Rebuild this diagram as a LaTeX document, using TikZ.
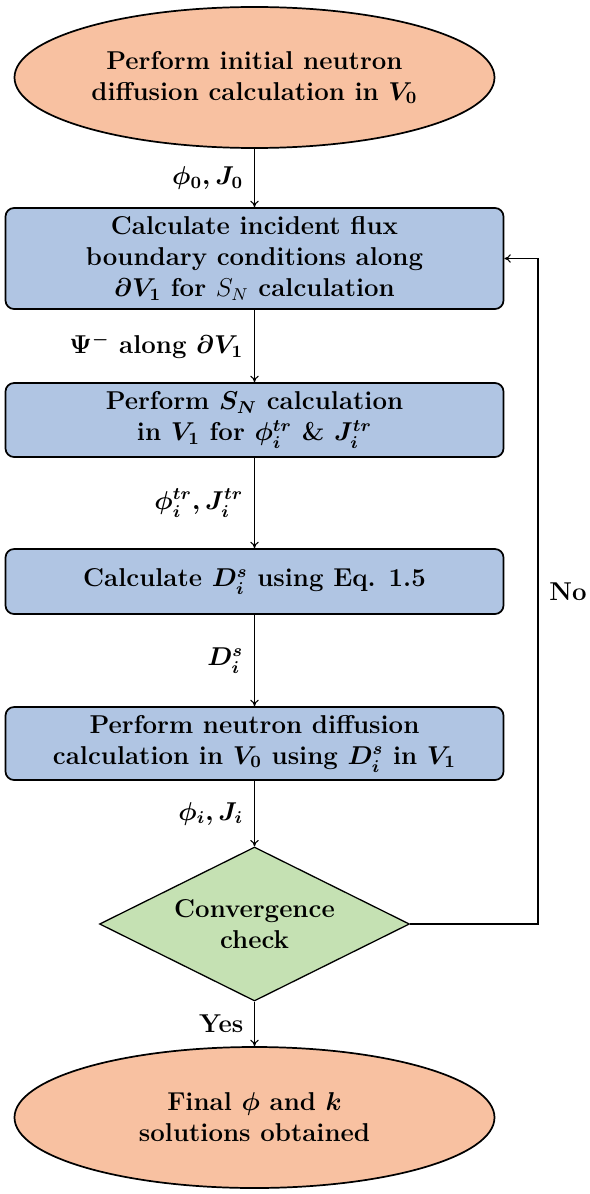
\documentclass[tikz,border=0pt]{standalone}
\usepackage{amsmath}
\usetikzlibrary{shapes.geometric,arrows.meta}
\newlength\upx
\setlength\upx{0.465pt}
\definecolor{peach}{RGB}{248,193,161}
\definecolor{boxblue}{RGB}{176,197,227}
\definecolor{leaf}{RGB}{197,225,179}
\begin{document}
\begin{tikzpicture}[x=0.465pt,y=-0.465pt,
  txt/.style={font=\fontsize{12}{14.4}\selectfont\bfseries\boldmath, align=center},
  term/.style={txt, ellipse, draw=black, line width=0.8pt, fill=peach, inner sep=0pt, minimum width=480\upx},
  procbox/.style={txt, rectangle, rounded corners=4pt, draw=black, line width=0.8pt, fill=boxblue, inner sep=0pt, minimum width=498\upx},
  decide/.style={txt, diamond, shape aspect=2, draw=black, line width=0.6pt, fill=leaf, inner sep=0pt, minimum width=310\upx, minimum height=154\upx},
  arr/.style={-{To[length=3pt,width=4pt]}, line width=0.5pt},
  lbl/.style={txt, left, inner sep=5pt}]
\useasboundingbox (0,0) rectangle (590,1194);
\node[term, minimum height=141\upx] (e1) at (254.5,77.5) {Perform initial neutron\\ diffusion calculation in $V_0$};
\node[procbox, minimum height=101\upx] (b1) at (254.5,258.5) {Calculate incident flux\\ boundary conditions along\\ $\partial V_1$ for {\unboldmath$S_N$} calculation};
\node[procbox, minimum height=74\upx] (b2) at (254.5,420) {Perform $S_N$ calculation\\ in $V_1$ for $\phi_i^{tr}$ \& $J_i^{tr}$};
\node[procbox, minimum height=65\upx] (b3) at (254.5,581.5) {Calculate $D_i^s$ using Eq. 1.5};
\node[procbox, minimum height=73\upx] (b4) at (254.5,743.5) {Perform neutron diffusion\\ calculation in $V_0$ using $D_i^s$ in $V_1$};
\node[decide] (d) at (254.5,924) {Convergence\\ check};
\node[term, minimum height=141\upx] (e2) at (254.5,1117.5) {Final $\phi$ and $k$\\ solutions obtained};
\coordinate (lp) at (538,924);
\draw[arr] (e1) -- node[lbl] {$\phi_0, J_0$} (b1);
\draw[arr] (b1) -- node[lbl] {$\Psi^-$ along $\partial V_1$} (b2);
\draw[arr] (b2) -- node[lbl] {$\phi_i^{tr}, J_i^{tr}$} (b3);
\draw[arr] (b3) -- node[lbl] {$D_i^s$} (b4);
\draw[arr] (b4) -- node[lbl] {$\phi_i, J_i$} (d);
\draw[arr] (d) -- node[lbl] {Yes} (e2);
\draw[arr] (d.east) -- (lp) |- node[pos=0.25, txt, right, inner sep=5pt] {No} (b1.east);
\end{tikzpicture}
\end{document}
